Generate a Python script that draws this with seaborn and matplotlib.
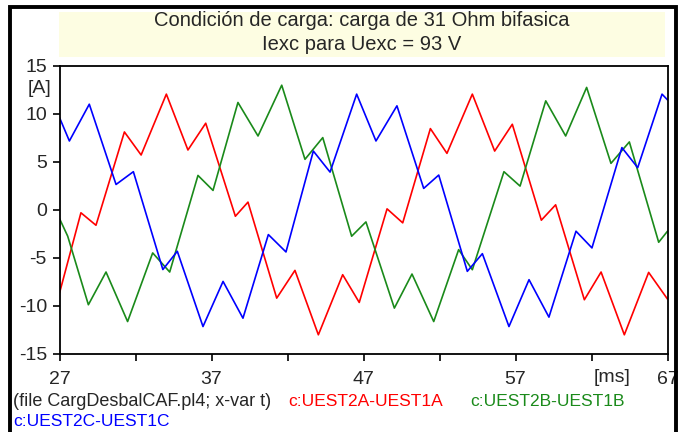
import pandas as pd
import numpy as np
import matplotlib
matplotlib.use("Agg")
import matplotlib.pyplot as plt
import seaborn as sns
from matplotlib.patches import Rectangle

# Curvas (tiempo en ms, corriente en A)
t_a = [27.0, 28.41, 29.4, 31.27, 32.37, 34.03, 35.45, 36.62, 38.57, 39.4,
       41.29, 42.49, 44.03, 45.63, 46.72, 48.55, 49.58, 51.4, 52.49, 54.16,
       55.63, 56.79, 58.7, 59.64, 61.53, 62.63, 64.16, 65.76, 67.0]
i_a = [-8.65, -0.29, -1.59, 8.13, 5.73, 12.07, 6.25, 9.04, -0.65, 0.82,
       -9.18, -6.29, -13.0, -6.74, -9.63, 0.12, -1.34, 8.48, 5.9, 12.07,
       6.14, 8.93, -1.06, 0.54, -9.35, -6.46, -13.0, -6.5, -9.28]

t_b = [27.0, 27.54, 28.9, 30.06, 31.48, 33.13, 34.25, 36.11, 37.1, 38.74,
       40.06, 41.62, 43.15, 44.32, 46.22, 47.16, 49.03, 50.19, 51.62, 53.26,
       54.16, 56.24, 57.3, 58.99, 60.3, 61.68, 63.28, 64.49, 66.42, 67.0]
i_b = [-0.89, -2.73, -9.87, -6.46, -11.62, -4.47, -6.46, 3.6, 2.04, 11.2,
       7.71, 13.0, 5.28, 7.54, -2.73, -1.24, -10.22, -6.67, -11.62, -4.13,
       -6.22, 3.99, 2.49, 11.37, 7.71, 12.77, 4.86, 7.09, -3.36, -2.21]

t_c = [27.0, 27.65, 28.96, 30.72, 31.86, 33.8, 34.75, 36.44, 37.76, 39.07,
       40.74, 41.9, 43.7, 44.8, 46.55, 47.82, 49.2, 50.96, 51.95, 53.83,
       54.82, 56.57, 57.89, 59.2, 60.98, 62.03, 64.0, 65.04, 66.64, 67.0]
i_c = [9.63, 7.19, 11.02, 2.66, 3.99, -6.2, -4.3, -12.14, -7.44, -11.27,
       -2.56, -4.37, 6.14, 3.95, 12.07, 7.19, 10.85, 2.25, 3.64, -6.39,
       -4.55, -12.14, -7.26, -11.16, -2.21, -3.95, 6.5, 4.41, 12.07, 11.47]

series = ["c:UEST2A-UEST1A", "c:UEST2B-UEST1B", "c:UEST2C-UEST1C"]
colores = ["#ff0000", "#1a8a1a", "#0000ff"]

x_ticks = [27, 32, 37, 42, 47, 52, 57, 62, 67]
x_labels = ["27", "", "37", "", "47", "", "57", "", "67"]
y_ticks = [-15, -10, -5, 0, 5, 10, 15]

titulo1 = "Condición de carga: carga de 31 Ohm bifasica"
titulo2 = "Iexc para Uexc = 93 V"
archivo = "(file CargDesbalCAF.pl4; x-var t)"

df = pd.concat([
    pd.DataFrame({"t": t_a, "i": i_a, "serie": series[0]}),
    pd.DataFrame({"t": t_b, "i": i_b, "serie": series[1]}),
    pd.DataFrame({"t": t_c, "i": i_c, "serie": series[2]}),
])

sns.set_style("white")
plt.rcParams["font.family"] = ["Liberation Sans", "DejaVu Sans"]
plt.rcParams["axes.unicode_minus"] = False

fig = plt.figure(figsize=(6.83, 4.32), dpi=100)
ax = fig.add_axes([59.5 / 683, 1 - 354 / 432, 608 / 683, 288 / 432])

sns.lineplot(data=df, x="t", y="i", hue="serie", palette=dict(zip(series, colores)),
             estimator=None, linewidth=1.2, legend=False, ax=ax)

ax.set_xlim(27, 67)
ax.set_ylim(-15, 15)
ax.set_xticks(x_ticks)
ax.set_xticklabels(x_labels)
ax.set_yticks(y_ticks)
ax.set_xlabel("")
ax.set_ylabel("")
ax.tick_params(axis="both", direction="out", length=5, width=1.2, color="black",
               labelsize=14, left=True, bottom=True)
ax.tick_params(axis="x", pad=7)
ax.tick_params(axis="y", pad=4)
for s in ax.spines.values():
    s.set_color("black")
    s.set_linewidth(1.3)

ax.text(-0.033, 0.923, "[A]", transform=ax.transAxes, ha="center", va="center", fontsize=14)
ax.text(0.909, -0.083, "[ms]", transform=ax.transAxes, ha="center", va="center", fontsize=14)

# recuadro del titulo
fig.patches.append(Rectangle((59 / 683, 1 - 57 / 432), 606 / 683, 45 / 432,
                             transform=fig.transFigure, facecolor="#fdfde2",
                             edgecolor="none", zorder=0))
fig.text(362 / 683, 1 - 21 / 432, titulo1, ha="center", va="center", fontsize=14.5)
fig.text(362 / 683, 1 - 45 / 432, titulo2, ha="center", va="center", fontsize=14.5)

# marco exterior
fig.patches.append(Rectangle((10 / 683, -0.05), 666 / 683, 1.05 - 7 / 432,
                             transform=fig.transFigure, facecolor="none",
                             edgecolor="black", linewidth=2.8, zorder=5))

# leyenda inferior
fig.text(13 / 683, 1 - 401 / 432, archivo, ha="left", va="center", fontsize=13)
fig.text(288 / 683, 1 - 401 / 432, series[0], ha="left", va="center", fontsize=12.5, color=colores[0])
fig.text(470 / 683, 1 - 401 / 432, series[1], ha="left", va="center", fontsize=12.5, color=colores[1])
fig.text(13 / 683, 1 - 421 / 432, series[2], ha="left", va="center", fontsize=12.5, color=colores[2])

fig.savefig("out.png", dpi=100)
